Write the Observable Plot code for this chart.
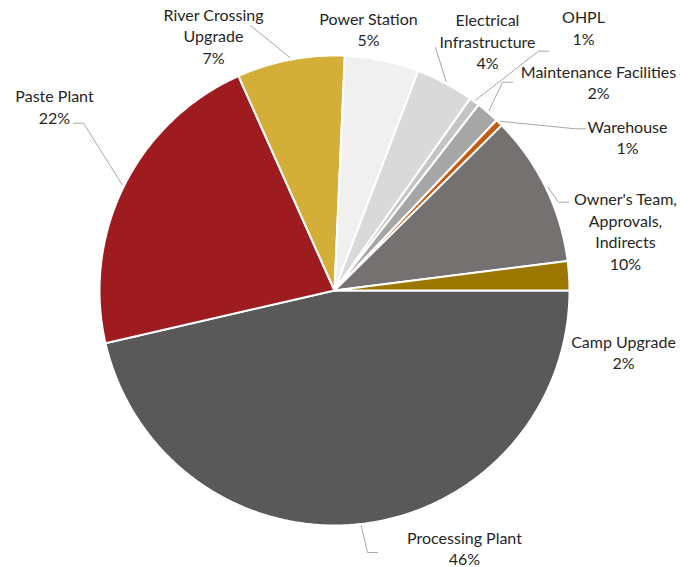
<!DOCTYPE html>
<html><head><meta charset="utf-8">
<script src="https://cdn.jsdelivr.net/npm/d3@7"></script>
<script src="https://cdn.jsdelivr.net/npm/@observablehq/plot@0.6"></script>
<style>body{margin:0;background:#fff}</style>
</head><body><div id="chart"></div>
<script>
// ---- data ----
const categories = ["Processing Plant","Paste Plant","River Crossing Upgrade","Power Station","Electrical Infrastructure","OHPL","Maintenance Facilities","Warehouse","Owner's Team, Approvals, Indirects","Camp Upgrade"];
const shares = [46.4, 21.9, 7.4, 5.1, 4.0, 0.7, 1.6, 0.5, 10.4, 2.0];
const labelText = ["Processing Plant","Paste Plant","River Crossing\nUpgrade","Power Station","Electrical\nInfrastructure","OHPL","Maintenance Facilities","Warehouse","Owner's Team,\nApprovals,\nIndirects","Camp Upgrade"];
const colors = ["#595959","#9E1B20","#D4AF37","#F0F0F0","#D9D9D9","#C4C4C4","#A6A6A6","#C55A11","#767171","#9C7700"];

// ---- layout (pie geometry and manual label placement) ----
const cx = 334, cy = 290, R = 235;
const labelX = [464, 54, 213, 368, 487, 583, 598, 627, 625, 623];
const labelY = [547, 105.5, 35, 28, 40.5, 26.5, 81, 136, 230, 351];
const leaderBends = [
  [[367,552],[377,552]],
  [[83,122.7],[73,122.7]],
  [[250,25]],
  null,
  [[435,47]],
  [[538,50.7],[548,50.7]],
  [[502,81.7],[512,81.7]],
  [[575,128.3],[585,128.3]],
  [[558,201.7],[568,201.7]],
  null
];

// ---- geometry from data ----
const total = d3.sum(shares);
const arcs = d3.pie().sort(null).startAngle(Math.PI/2).endAngle(Math.PI/2 + 2*Math.PI)(shares);
const slicePts = [];
const leaderPts = [];
arcs.forEach((a, i) => {
  const name = categories[i], color = colors[i];
  slicePts.push({name, color, x: cx, y: cy});
  const n = Math.max(2, Math.ceil((a.endAngle - a.startAngle) / (Math.PI/360)));
  for (let k = 0; k <= n; k++) {
    const t = a.startAngle + (a.endAngle - a.startAngle) * k / n;
    slicePts.push({name, color, x: cx + R*Math.sin(t), y: cy - R*Math.cos(t)});
  }
  if (leaderBends[i]) {
    const m = (a.startAngle + a.endAngle) / 2;
    leaderPts.push({name, x: cx + (R+2)*Math.sin(m), y: cy - (R+2)*Math.cos(m)});
    leaderBends[i].forEach(([x, y]) => leaderPts.push({name, x, y}));
  }
});
const labels = categories.map((c, i) => ({
  text: labelText[i] + "\n" + Math.round(shares[i] / total * 100) + "%",
  x: labelX[i], y: labelY[i]
}));

const chart = Plot.plot({
  width: 682, height: 567, margin: 0,
  x: {domain: [0, 682], range: [0, 682], axis: null},
  y: {domain: [0, 567], range: [0, 567], axis: null},
  color: {type: "identity"},
  style: {fontFamily: "Lato, sans-serif", background: "white"},
  marks: [
    Plot.line(slicePts, {x: "x", y: "y", z: "name", fill: "color", stroke: "white", strokeWidth: 2, curve: "linear-closed", strokeLinejoin: "round"}),
    Plot.line(leaderPts, {x: "x", y: "y", z: "name", stroke: "#A6A6A6", strokeWidth: 1, strokeLinejoin: "miter"}),
    Plot.text(labels, {x: "x", y: "y", text: "text", fontSize: 16, lineHeight: 1.34, fill: "#262626", textAnchor: "middle", lineAnchor: "middle"})
  ]
});
document.getElementById("chart").append(chart);
</script>
</body></html>
